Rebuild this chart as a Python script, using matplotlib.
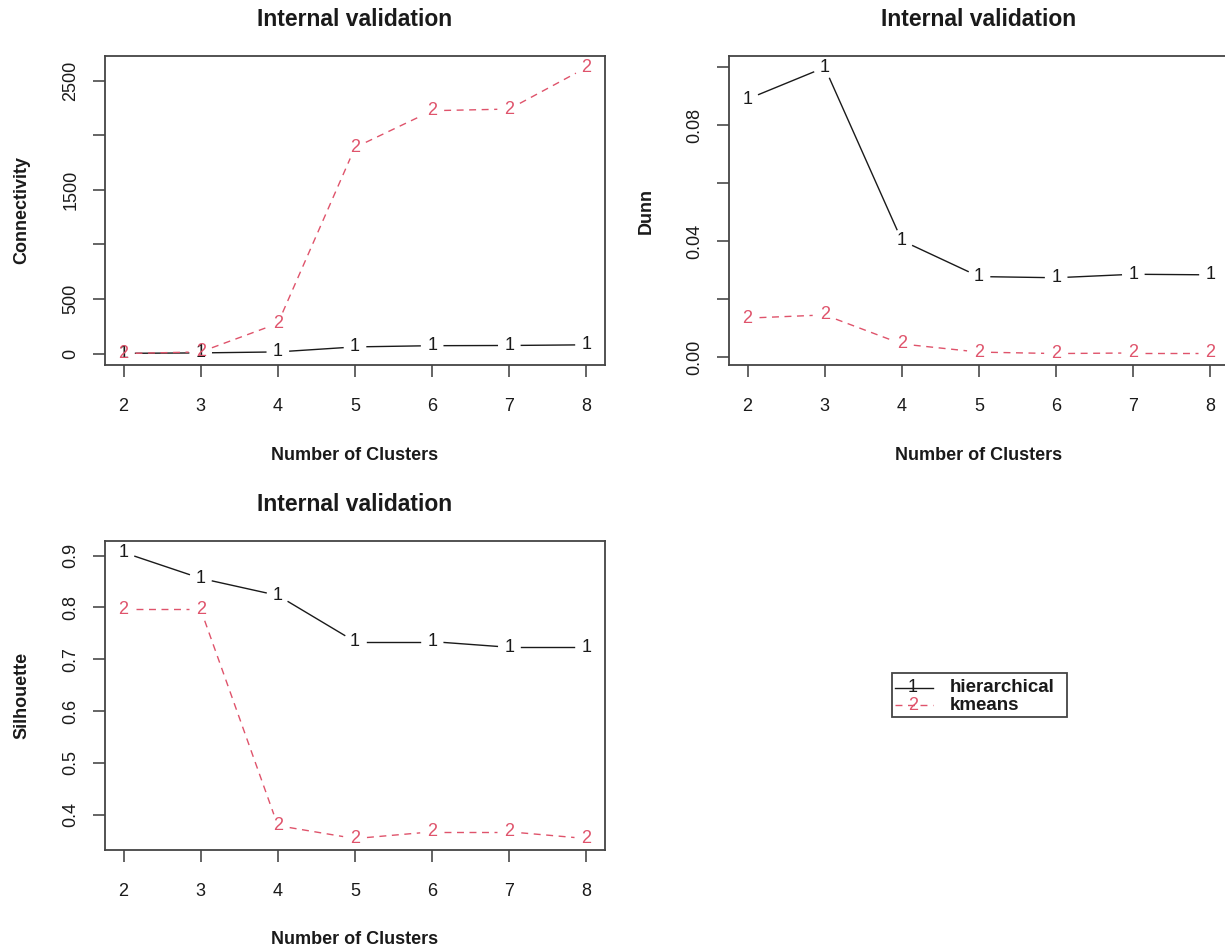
"""Internal validation panels (connectivity, Dunn, silhouette) for hierarchical vs kmeans."""

import matplotlib

matplotlib.use("Agg")
import matplotlib.pyplot as plt  # noqa: E402
import numpy as np  # noqa: E402
from matplotlib.lines import Line2D  # noqa: E402
from matplotlib.patches import Rectangle  # noqa: E402

plt.rcParams["font.family"] = ["Liberation Sans", "DejaVu Sans"]

# --- data ------------------------------------------------------------------------------------
clusters = [2, 3, 4, 5, 6, 7, 8]

conn_hier = [2, 6, 15, 61, 72, 74, 80]
conn_kmeans = [0, 15, 276, 1887, 2224, 2239, 2620]

dunn_hier = [0.0889, 0.0998, 0.0402, 0.0278, 0.0274, 0.0286, 0.0284]
dunn_kmeans = [0.0135, 0.0146, 0.0046, 0.0018, 0.0013, 0.0015, 0.0015]

sil_hier = [0.906, 0.856, 0.823, 0.734, 0.734, 0.723, 0.723]
sil_kmeans = [0.796, 0.796, 0.379, 0.354, 0.367, 0.367, 0.354]

conn_ticks = [0, 500, 1000, 1500, 2000, 2500]
conn_ticklabels = ["0", "500", "", "1500", "", "2500"]
dunn_ticks = [0.00, 0.02, 0.04, 0.06, 0.08, 0.10]
dunn_ticklabels = ["0.00", "", "0.04", "", "0.08", ""]
sil_ticks = [0.4, 0.5, 0.6, 0.7, 0.8, 0.9]
sil_ticklabels = ["0.4", "0.5", "0.6", "0.7", "0.8", "0.9"]

methods = ["hierarchical", "kmeans"]
method_marks = ["1", "2"]

# --- style ------------------------------------------------------------------------------------
W, H = 1225, 949
INK = "#1a1a1a"
RED = "#DF536B"
BOX = "#444444"
GAP = 12  # px left blank around each point label (R type="b")


def px_box(left, top, right, bottom):
    return [left / W, 1 - bottom / H, (right - left) / W, (bottom - top) / H]


def r_range(values):
    lo, hi = min(values), max(values)
    pad = 0.04 * (hi - lo)
    return lo - pad, hi + pad


def draw_series(ax, xs, ys, mark, color, dashed):
    pts = ax.transData.transform(np.column_stack([xs, ys]))
    inv = ax.transData.inverted()
    for p0, p1 in zip(pts[:-1], pts[1:]):
        d = p1 - p0
        dist = np.hypot(*d)
        if dist <= 2 * GAP:
            continue
        a = inv.transform(p0 + d / dist * GAP)
        b = inv.transform(p1 - d / dist * GAP)
        line = ax.plot([a[0], b[0]], [a[1], b[1]], color=color, linewidth=1.0, zorder=2)[0]
        if dashed:
            line.set_dashes((5, 4))
    for x, y in zip(xs, ys):
        ax.text(x, y, mark, color=color, fontsize=13, ha="center", va="center", zorder=3)


def panel(fig, rect, hier, kmeans, ticks, ticklabels, ylabel):
    ax = fig.add_axes(rect)
    ax.set_xlim(*r_range(clusters))
    ax.set_ylim(*r_range(hier + kmeans))
    ax.set_xticks(clusters)
    ax.set_xticklabels([str(c) for c in clusters])
    ax.set_yticks(ticks)
    ax.set_yticklabels(ticklabels, rotation=90, va="center")
    for spine in ax.spines.values():
        spine.set_color(BOX)
        spine.set_linewidth(1.3)
    ax.tick_params(axis="both", direction="out", length=8.6, width=1.2, color="#4a4a4a",
                   labelsize=13, labelcolor=INK)
    ax.tick_params(axis="x", pad=15)
    ax.tick_params(axis="y", pad=10)
    height_px = rect[3] * H
    width_px = rect[2] * W
    ax.set_xlabel("Number of Clusters", fontsize=13, fontweight="bold", color=INK)
    ax.xaxis.set_label_coords(0.5, -90 / height_px)
    ax.xaxis.label.set_va("center")
    ax.set_ylabel(ylabel, fontsize=13, fontweight="bold", color=INK)
    ax.yaxis.set_label_coords(-83 / width_px, 0.5)
    ax.yaxis.label.set_va("center")
    ax.text(0.5, 1 + 37 / height_px, "Internal validation", transform=ax.transAxes,
            ha="center", va="center", fontsize=16.5, fontweight="bold", color=INK)
    draw_series(ax, clusters, hier, method_marks[0], INK, dashed=False)
    draw_series(ax, clusters, kmeans, method_marks[1], RED, dashed=True)
    return ax


fig = plt.figure(figsize=(W / 100, H / 100), dpi=100)
fig.patch.set_facecolor("white")

panel(fig, px_box(105, 56, 605, 365), conn_hier, conn_kmeans, conn_ticks, conn_ticklabels,
      "Connectivity")
panel(fig, px_box(729, 56, 1229, 365), dunn_hier, dunn_kmeans, dunn_ticks, dunn_ticklabels,
      "Dunn")
panel(fig, px_box(105, 541, 605, 850), sil_hier, sil_kmeans, sil_ticks, sil_ticklabels,
      "Silhouette")

# legend, drawn by hand in figure pixels like R's legend()
def fx(x):
    return x / W


def fy(y):
    return 1 - y / H


fig.add_artist(Rectangle((fx(892), fy(717)), (1067 - 892) / W, (717 - 673) / H,
                         transform=fig.transFigure, facecolor="white", edgecolor=BOX,
                         linewidth=1.3))
for row_y, name, mark, color, dashed in zip([688, 705], methods, method_marks, [INK, RED],
                                            [False, True]):
    ln = Line2D([fx(895), fx(933)], [fy(row_y), fy(row_y)], transform=fig.transFigure,
                color=color, linewidth=1.0)
    if dashed:
        ln.set_dashes((5, 4))
    fig.add_artist(ln)
    fig.text(fx(913), fy(row_y), mark, color=color, fontsize=13, ha="center", va="center")
    fig.text(fx(950), fy(row_y), name, color=INK, fontsize=13.5, fontweight="bold",
             ha="left", va="center")

fig.savefig("out.png", dpi=100, facecolor="white")
plt.close(fig)
